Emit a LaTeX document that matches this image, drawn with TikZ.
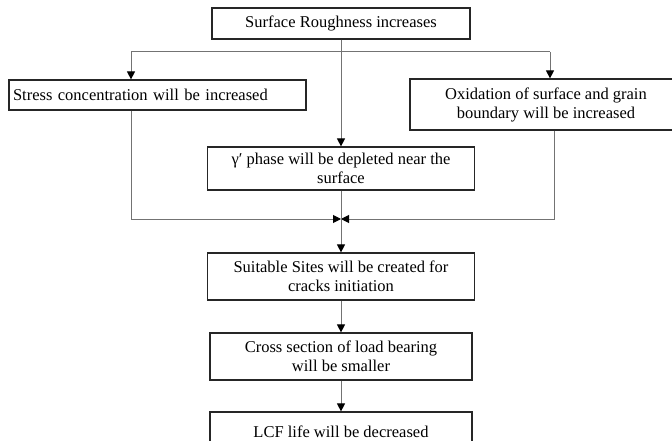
\documentclass[tikz,border=0pt]{standalone}
\usepackage{fontspec}
\setmainfont{Liberation Serif}
\usetikzlibrary{arrows.meta,calc}
\tikzset{>={Triangle[width=8pt,length=8pt,color=black]}}
\tikzset{box/.style={draw=black!85,line width=1.2pt,align=center,fill=white,
  font=\fontsize{16.5}{19}\selectfont,inner sep=3pt}}
\tikzset{link/.style={draw=black!55,line width=1pt}}

\begin{document}
\begin{tikzpicture}[x=1pt,y=-1pt]
\useasboundingbox (0,0) rectangle (672,441);
\clip (0,0) rectangle (672,441);
\node[box,minimum width=258pt,minimum height=31pt] (rough) at (341,23.5) {Surface Roughness increases};
\node[box,minimum width=297pt,minimum height=30pt,text width=289pt,align=left] (stress) at (157.5,95) {Stress concentration will be increased};
\node[box,minimum width=272pt,minimum height=51pt] (oxid) at (546,104.5) {Oxidation of surface and grain\\ boundary will be increased};
\node[box,minimum width=267pt,minimum height=43pt] (gamma) at (341,168.5) {γ′ phase will be depleted near the\\ surface};
\node[box,minimum width=267pt,minimum height=47pt] (suit) at (341,276.5) {Suitable Sites will be created for\\ cracks initiation};
\node[box,minimum width=262pt,minimum height=47pt] (cross) at (341,356.5) {Cross section of load bearing\\ will be smaller};
\node[box,minimum width=262pt,minimum height=40pt] (lcf) at (341,432) {LCF life will be decreased};
% branching below the top box
\coordinate (sl) at (131,52);
\coordinate (sr) at (550,52);
\draw[link] (sl) -- (sr);
\draw[link,->] (sl) -- (sl |- stress.north);
\draw[link,->] (sr) -- (sr |- oxid.north);
\draw[link,->] (rough) -- (gamma);
% joining above the sites box
\coordinate (ml) at (131,219);
\coordinate (mr) at (554,219);
\coordinate (merge) at (341,219);
\draw[link,->] (stress.south -| ml) -- (ml) -- (merge);
\draw[link,->] (oxid.south -| mr) -- (mr) -- (merge);
\draw[link,->] (gamma) -- (suit);
\draw[link,->] (suit) -- (cross);
\draw[link,->] (cross) -- (lcf);
\end{tikzpicture}
\end{document}
